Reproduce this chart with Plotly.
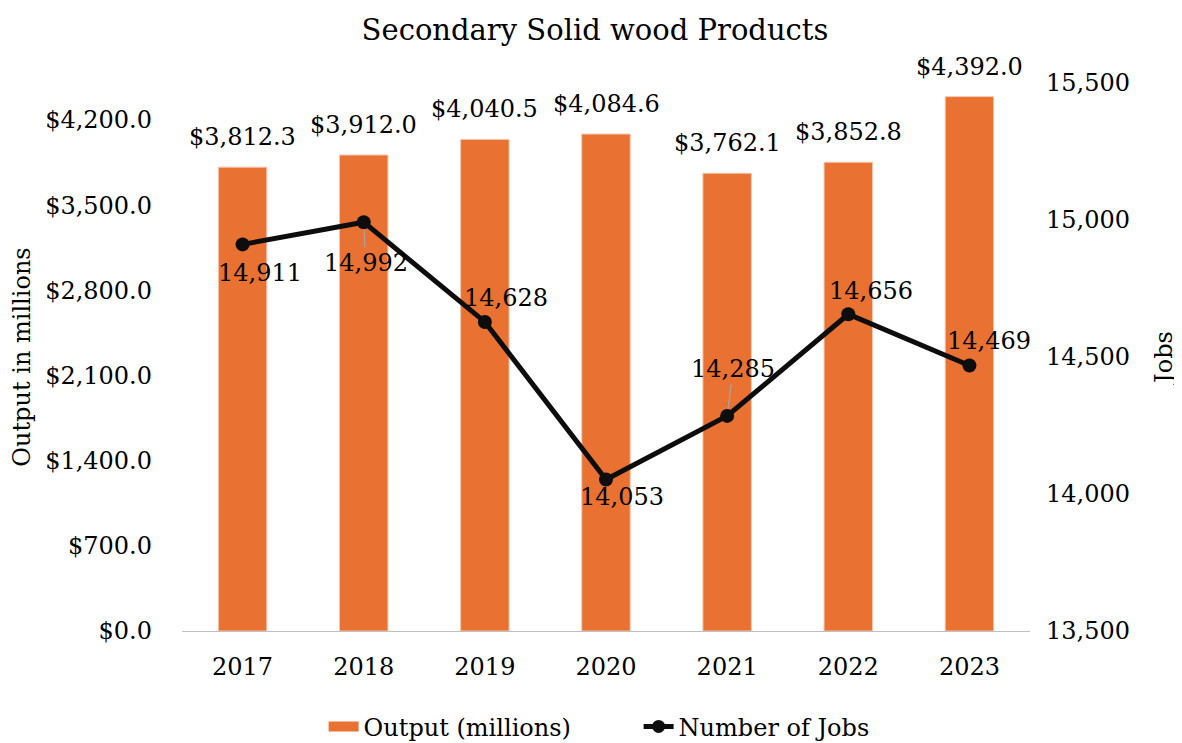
import plotly.graph_objects as go

years = ["2017", "2018", "2019", "2020", "2021", "2022", "2023"]
output_millions = [3812.3, 3912.0, 4040.5, 4084.6, 3762.1, 3852.8, 4392.0]
jobs = [14911, 14992, 14628, 14053, 14285, 14656, 14469]

left_ticks = [0, 700, 1400, 2100, 2800, 3500, 4200]
right_ticks = [13500, 14000, 14500, 15000, 15500]

# label offsets (pixels) for job labels, and whether a leader line is shown
job_label_dx = [17, 2, 21, 16, 6, 23, 20]
job_label_dy = [29, 41, -24, 18, -47, -23, -24]
job_label_leader = [False, True, False, False, True, False, False]

FONT = "DejaVu Serif"
ORANGE = "#E97132"
BLACK = "#0D0D0D"
FS = 24

# The page body has an 8px default margin; size the figure to fit the window.
W, H = 1174, 735

fig = go.Figure()
fig.add_trace(go.Bar(
    x=years, y=output_millions, name="Output (millions)",
    marker=dict(color=ORANGE, line=dict(width=1, color="#F6C7AC")),
    width=0.4, showlegend=False,
))
fig.add_trace(go.Scatter(
    x=years, y=jobs, name="Number of Jobs", yaxis="y2",
    mode="lines+markers",
    line=dict(color=BLACK, width=5),
    marker=dict(size=14, color=BLACK),
    showlegend=False,
))
# legend entries
fig.add_trace(go.Scatter(
    x=[None], y=[None], name="Output (millions)", mode="lines",
    line=dict(color=ORANGE, width=11),
))
fig.add_trace(go.Scatter(
    x=[None], y=[None], name="Number of Jobs", mode="lines+markers",
    line=dict(color=BLACK, width=5), marker=dict(size=13, color=BLACK),
))

annotations = []
for i, v in enumerate(output_millions):
    annotations.append(dict(
        x=i, y=v, xref="x", yref="y", text=f"${v:,.1f}", showarrow=False,
        yanchor="middle", yshift=30, font=dict(size=FS, family=FONT, color="#000000"),
    ))
for i, (v, dx, dy, lead) in enumerate(zip(jobs, job_label_dx, job_label_dy, job_label_leader)):
    annotations.append(dict(
        x=i, y=v, xref="x", yref="y2", text=f"{v:,}", showarrow=True,
        axref="pixel", ayref="pixel", ax=dx, ay=dy,
        arrowhead=0, arrowwidth=1.2, standoff=7,
        arrowcolor="#A6A6A6" if lead else "rgba(0,0,0,0)",
        font=dict(size=FS, family=FONT, color="#000000"),
    ))

fig.update_layout(
    width=W, height=H,
    margin=dict(l=174, r=152, t=75, b=112, autoexpand=False),
    paper_bgcolor="white", plot_bgcolor="white",
    font=dict(family=FONT, size=FS, color="#000000"),
    title=dict(text="Secondary Solid wood Products", x=0.5, xanchor="center",
               yref="container", y=0.970, yanchor="middle", font=dict(size=29, family=FONT)),
    bargap=0.6,
    annotations=annotations,
    xaxis=dict(type="category", categoryorder="array", categoryarray=years,
               range=[-0.5, len(years) - 0.5],
               showgrid=False, showline=True, linecolor="#BFBFBF", linewidth=1,
               ticks="", tickfont=dict(size=FS), ticklabelstandoff=14, automargin=False),
    yaxis=dict(range=[0, 4504], tickvals=left_ticks,
               ticktext=[f"${v:,.1f}" for v in left_ticks],
               showgrid=False, zeroline=False, showline=False, automargin=False,
               title=dict(text="Output in millions", font=dict(size=FS), standoff=22),
               tickfont=dict(size=FS), ticklabelstandoff=29),
    yaxis2=dict(range=[13500, 15500], tickvals=right_ticks,
                ticktext=[f"{v:,}" for v in right_ticks],
                overlaying="y", side="right", showgrid=False, zeroline=False,
                showline=False, automargin=False,
                title=dict(text="Jobs", font=dict(size=FS), standoff=26),
                tickfont=dict(size=FS), ticklabelstandoff=15),
    legend=dict(orientation="h", x=0.167, xanchor="left", yref="container",
                y=0.022, yanchor="middle", font=dict(size=FS), traceorder="normal",
                entrywidth=270),
)

fig.write_html("out.html")
